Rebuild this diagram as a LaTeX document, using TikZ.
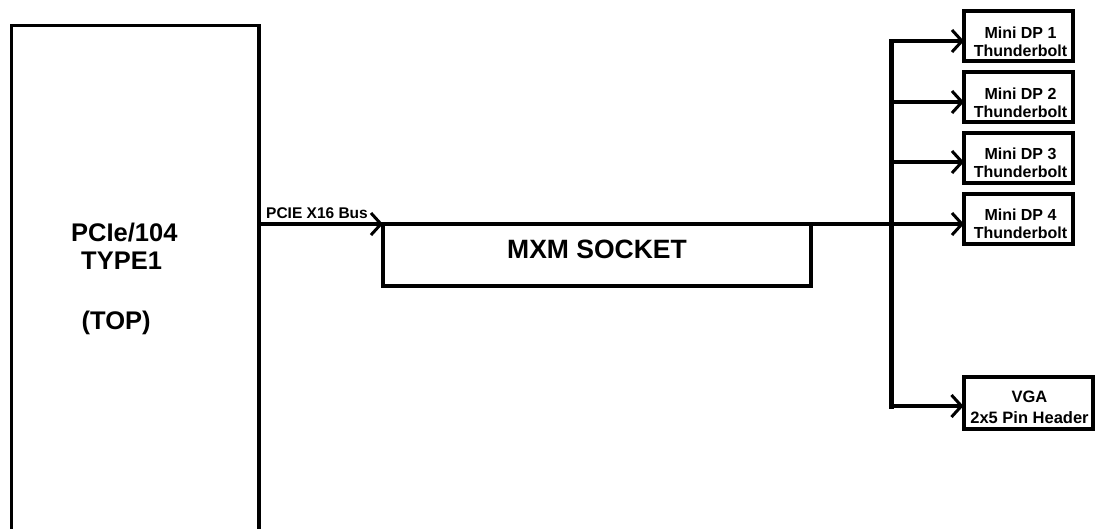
\documentclass[tikz,border=0pt]{standalone}
\usepackage{fontspec}
\setmainfont{Liberation Sans}
\usetikzlibrary{arrows.meta}
\begin{document}
\begin{tikzpicture}[x=1pt,y=-1pt,
  box/.style={draw, line width=3.5pt, inner sep=0pt, outer sep=0pt},
  portbox/.style={draw, line width=4pt, inner sep=0pt, outer sep=0pt, minimum width=109pt, minimum height=50.5pt},
  portlabel/.style={inner sep=0pt, align=center, font=\fontsize{16}{18}\selectfont\bfseries},
  bigtext/.style={inner sep=0pt, anchor=base west, font=\fontsize{25.5}{28}\selectfont\bfseries},
  tip/.style={-{Straight Barb[length=10pt,width=22pt,line width=3pt]}},
  wire/.style={line width=3.5pt},
  branch/.style={line width=4pt, tip},
  busline/.style={line width=5pt, line cap=rect}]
\useasboundingbox (0,0) rectangle (1095,528);
\clip (0,0) rectangle (1095,528);

% PCIe/104 board
\node[box, minimum width=247.5pt, minimum height=560pt, anchor=north west] (pcie) at (11.5,25.5) {};
\node[bigtext] (pcieA) at (71,241) {PCIe/104};
\node[bigtext] (pcieB) at (81,269) {TYPE1};
\node[bigtext] (pcieC) at (81.5,329) {(TOP)};

% MXM socket
\node[box, minimum width=428pt, minimum height=62pt, text depth=12pt,
      font=\fontsize{26.5}{30}\selectfont\bfseries] (mxm) at (597,255) {MXM SOCKET};

% bus label
\node[inner sep=0pt, anchor=base west, font=\fontsize{15.5}{18}\selectfont\bfseries] (buslabel) at (266,218) {PCIE X16 Bus};

% output boxes
\node[portbox] (mdp1) at (1018.5,35.75) {};
\node[portbox] (mdp2) at (1018.5,97) {};
\node[portbox] (mdp3) at (1018.5,158) {};
\node[portbox] (mdp4) at (1018.5,219) {};
\node[portbox, minimum width=129pt, minimum height=51.5pt] (vga) at (1028,403) {};

\node[portlabel] (mdp1t) at (1020.5,41.5) {Mini DP 1\\Thunderbolt};
\node[portlabel] (mdp2t) at (1020.5,102.5) {Mini DP 2\\Thunderbolt};
\node[portlabel] (mdp3t) at (1020.5,162.5) {Mini DP 3\\Thunderbolt};
\node[portlabel] (mdp4t) at (1020.5,224) {Mini DP 4\\Thunderbolt};
\node[portlabel, font=\fontsize{16.5}{21}\selectfont\bfseries] (vgat) at (1029.5,407) {VGA\\2x5 Pin Header};

% bus coordinates
\coordinate (b1) at (891,41);
\coordinate (b2) at (891,102);
\coordinate (b3) at (891,162);
\coordinate (b4) at (891,224);
\coordinate (b5) at (891,406);

% main PCIe line
\draw[wire, tip] (pcie.east |- mxm.north) -- (mxm.north west);
\draw[wire, tip] (mxm.north east) -- (mdp4.west |- b4);

% vertical bus and branches
\draw[busline] (b1) -- (b5);
\draw[branch] (b1) -- (mdp1.west |- b1);
\draw[branch] (b2) -- (mdp2.west |- b2);
\draw[branch] (b3) -- (mdp3.west |- b3);
\draw[branch] (b5) -- (vga.west |- b5);
\end{tikzpicture}
\end{document}
